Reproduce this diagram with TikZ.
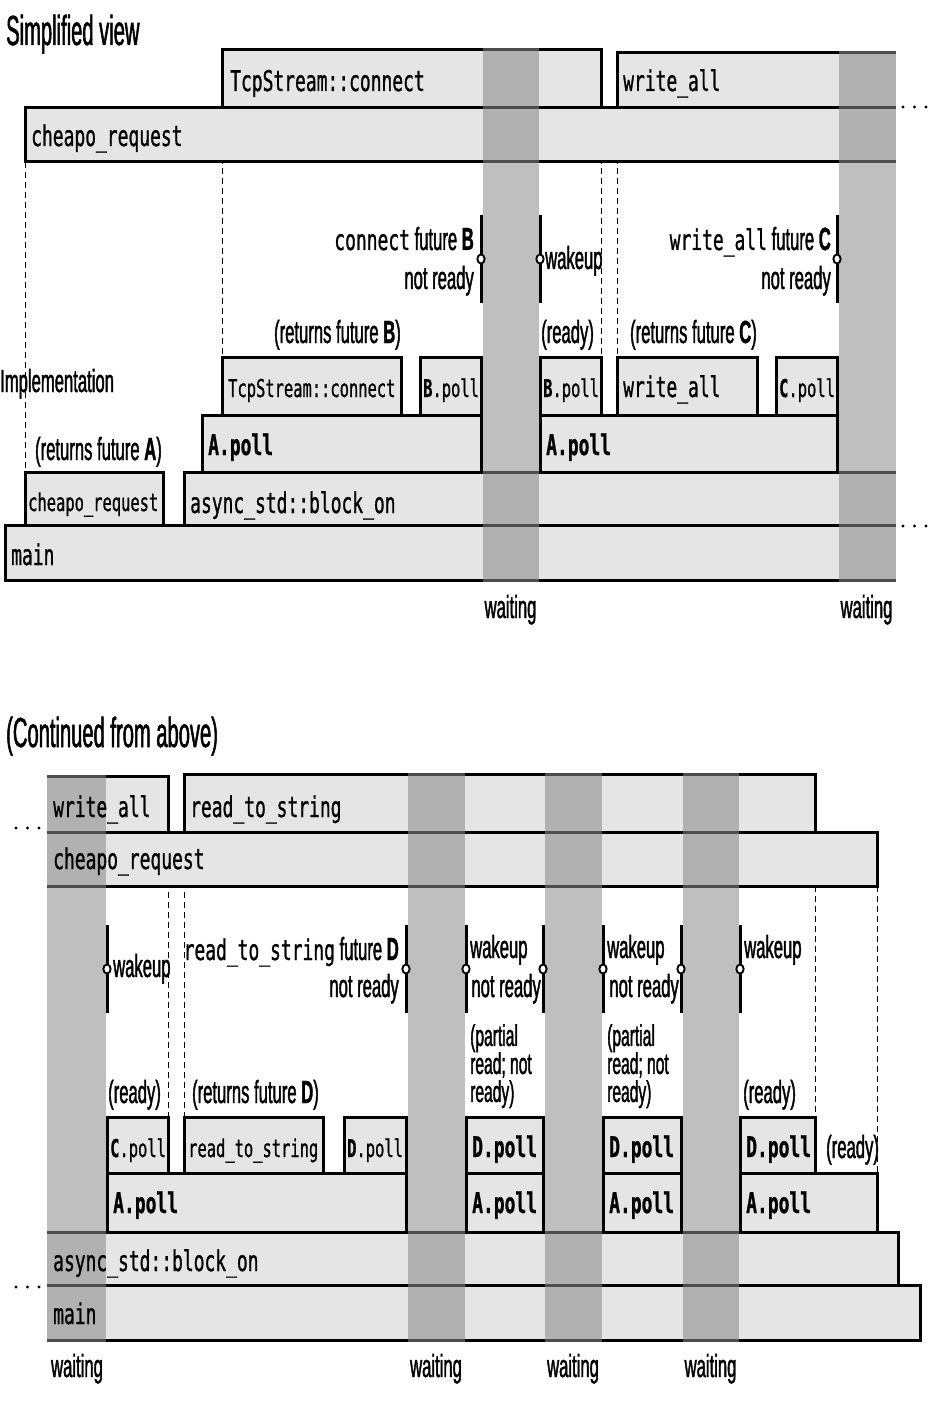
\documentclass[tikz,border=0pt]{standalone}
\usepackage{fontspec}
\setmainfont{Liberation Sans}
\newfontfamily\labfont[FakeStretch=0.52,FakeBold=1.2]{Liberation Sans}
\newfontfamily\ttlfont[FakeStretch=0.48,FakeBold=1.2]{Liberation Sans}
\newfontfamily\codefont[FakeStretch=0.63,FakeBold=0.8]{DejaVu Sans Mono}
\definecolor{barfill}{HTML}{E5E5E5}
\definecolor{colout}{HTML}{BFBFBF}
\definecolor{colin}{HTML}{B1B1B1}
\definecolor{colline}{HTML}{4D4D4D}
\newcommand\cd[1]{{\codefont\fontsize{28.5}{28.5}\selectfont #1}}
\newcommand\boxC[4]{\fill[barfill] (#1,#2) rectangle (#3,#4); \draw[barline] (#1,#2) rectangle (#3,#4);}
\newcommand\boxR[4]{\fill[barfill] (#1,#2) rectangle (#3,#4); \draw[barline] (#3,#2) -- (#1,#2) -- (#1,#4) -- (#3,#4);}
\newcommand\boxL[4]{\fill[barfill] (#1,#2) rectangle (#3,#4); \draw[barline] (#1,#2) -- (#3,#2) -- (#3,#4) -- (#1,#4);}
\newcommand\gcol[7]{%
  \fill[colout] (#1,#3) rectangle (#2,#4);
  \fill[colin] (#1,#3) rectangle (#2,#5);
  \fill[colin] (#1,#6) rectangle (#2,#4);
  \foreach \yy in {#7} {\draw[collinestyle] (#1,\yy) -- (#2,\yy);}
}
\newcommand\wake[2]{%
  \draw[wakeline] (#1,#2-44) -- (#1,#2+44);
  \draw[wakecirc] (#1,#2) ellipse (3.6 and 4.6);
}
\newcommand\dotsat[2]{%
  \foreach \dd in {0,11.5,23} {\fill (#1+\dd,#2) circle (1.7);}
}
\tikzset{
  barline/.style={line width=3pt, black},
  collinestyle/.style={line width=3pt, colline},
  wakeline/.style={line width=3pt, black},
  wakecirc/.style={line width=1.9pt, black, fill=white},
  dashln/.style={line width=1pt, dash pattern=on 6pt off 4pt},
  codeL/.style={inner sep=0pt, anchor=base west, font=\codefont\fontsize{28.5}{28.5}\selectfont},
  codeS/.style={inner sep=0pt, anchor=base west, font=\codefont\fontsize{24.5}{24.5}\selectfont},
  lab/.style={inner sep=0pt, font=\labfont\fontsize{32}{32}\selectfont},
  ttl/.style={inner sep=0pt, anchor=base west, font=\ttlfont\fontsize{42}{42}\selectfont},
}
\begin{document}
\begin{tikzpicture}[x=1pt,y=-1pt]
\useasboundingbox[fill=white] (0,0) rectangle (946,1404);

% ================= TOP =================
\node[ttl] (title1) at (6,45) {Simplified view};
\draw[dashln] (25,162) -- (25,472);
\draw[dashln] (222,108) -- (222,357);
\draw[dashln] (601,108) -- (601,357);
\draw[dashln] (617,108) -- (617,357);
\boxR{25}{108}{896}{162}
\boxC{222}{50}{601}{108}
\boxR{617}{53}{896}{108}
\boxR{5}{525}{896}{580}
\boxC{25}{472}{163}{525}
\boxR{184}{472}{896}{525}
\boxC{202}{415}{481}{472}
\boxC{540}{415}{837}{472}
\boxC{222}{357}{401}{415}
\boxC{420}{357}{481}{415}
\boxC{540}{357}{601}{415}
\boxC{617}{357}{757}{415}
\boxC{776}{357}{837}{415}
\gcol{482.5}{538.5}{50}{580}{162}{472}{50,108,162,472,525,580}
\gcol{838.5}{896}{53}{580}{162}{472}{53,108,162,472,525,580}
\node[codeL] (t1) at (230,91) {TcpStream::connect};
\node[codeL] (wa1) at (623,91) {write\_all};
\node[codeL] (cr1) at (31,146) {cheapo\_request};
\node[codeS] (tc2) at (228,397) {TcpStream::connect};
\node[codeS] (bp1) at (423,397) {\textbf{B}.poll};
\node[codeS] (bp2) at (543,397) {\textbf{B}.poll};
\node[codeL] (wa2) at (623,397) {write\_all};
\node[codeS] (cp1) at (779,397) {\textbf{C}.poll};
\node[codeL] (ap1) at (208,455) {\textbf{A.poll}};
\node[codeL] (ap2) at (546,455) {\textbf{A.poll}};
\node[codeS] (cr2) at (28,511) {cheapo\_request};
\node[codeL] (bo1) at (190,513) {async\_std::block\_on};
\node[codeL] (mn1) at (11,565) {main};
\node[lab, anchor=base west] (impl) at (0,392) {Implementation};
\node[lab, anchor=base east] (rB) at (401,343) {(returns future \textbf{B})};
\node[lab, anchor=base west] (rd1) at (541,343) {(ready)};
\node[lab, anchor=base east] (rC) at (757,343) {(returns future \textbf{C})};
\node[lab, anchor=base east] (rA) at (162,460) {(returns future \textbf{A})};
\wake{481}{259}
\wake{540}{259}
\wake{837}{259}
\node[lab, anchor=base east] (fB) at (474,250) {\cd{connect} future \textbf{B}};
\node[lab, anchor=base east] (nrB) at (474,289) {not ready};
\node[lab, anchor=base west] (wk1) at (545,269) {wakeup};
\node[lab, anchor=base east] (fC) at (831,250) {\cd{write\_all} future \textbf{C}};
\node[lab, anchor=base east] (nrC) at (831,289) {not ready};
\node[lab, anchor=base] (wt1) at (510.5,618) {waiting};
\node[lab, anchor=base] (wt2) at (866.5,618) {waiting};
\dotsat{903}{107}
\dotsat{903}{526}

% ================= BOTTOM =================
\node[ttl] (title2) at (6,747) {(Continued from above)};
\draw[dashln] (168,832) -- (168,1117);
\draw[dashln] (184,832) -- (184,1117);
\draw[dashln] (815,886) -- (815,1117);
\draw[dashln] (877,886) -- (877,1173);
\boxL{47}{832}{877}{886}
\boxL{47}{776}{168}{832}
\boxC{184}{774}{815}{832}
\boxL{47}{1285}{920}{1340}
\boxL{47}{1232}{898}{1285}
\boxC{107}{1173}{406}{1232}
\boxC{466}{1173}{543}{1232}
\boxC{603}{1173}{681}{1232}
\boxC{740}{1173}{877}{1232}
\boxC{107}{1117}{168}{1173}
\boxC{184}{1117}{323}{1173}
\boxC{344}{1117}{406}{1173}
\boxC{466}{1117}{543}{1173}
\boxC{603}{1117}{681}{1173}
\boxC{740}{1117}{815}{1173}
\gcol{47}{105.5}{776}{1340}{886}{1232}{776,832,886,1232,1285,1340}
\gcol{407.5}{464.5}{774}{1340}{886}{1232}{774,832,886,1232,1285,1340}
\gcol{544.5}{601.5}{774}{1340}{886}{1232}{774,832,886,1232,1285,1340}
\gcol{682.5}{738.5}{774}{1340}{886}{1232}{774,832,886,1232,1285,1340}
\node[codeL] (wa3) at (53,817) {write\_all};
\node[codeL] (rs1) at (190,817) {read\_to\_string};
\node[codeL] (cr3) at (53,869) {cheapo\_request};
\node[codeS] (cp2) at (110,1157) {\textbf{C}.poll};
\node[codeS] (rs2) at (188,1157) {read\_to\_string};
\node[codeS] (dp1) at (347,1157) {\textbf{D}.poll};
\node[codeL] (dp2) at (472,1157) {\textbf{D.poll}};
\node[codeL] (dp3) at (609,1157) {\textbf{D.poll}};
\node[codeL] (dp4) at (746,1157) {\textbf{D.poll}};
\node[codeL] (ap3) at (113,1213) {\textbf{A.poll}};
\node[codeL] (ap4) at (472,1213) {\textbf{A.poll}};
\node[codeL] (ap5) at (609,1213) {\textbf{A.poll}};
\node[codeL] (ap6) at (746,1213) {\textbf{A.poll}};
\node[codeL] (bo2) at (53,1271) {async\_std::block\_on};
\node[codeL] (mn2) at (53,1324) {main};
\wake{107}{969}
\wake{406}{969}
\wake{466}{969}
\wake{543}{969}
\wake{603}{969}
\wake{681}{969}
\wake{740}{969}
\node[lab, anchor=base west] (wk2) at (113,977) {wakeup};
\node[lab, anchor=base east] (fD) at (399,960) {\cd{read\_to\_string} future \textbf{D}};
\node[lab, anchor=base east] (nrD) at (399,997) {not ready};
\node[lab, anchor=base west] (wk3) at (470,958) {wakeup};
\node[lab, anchor=base east] (nr2) at (541,997) {not ready};
\node[lab, anchor=base west] (wk4) at (607,958) {wakeup};
\node[lab, anchor=base east] (nr3) at (679,997) {not ready};
\node[lab, anchor=base west] (wk5) at (744,958) {wakeup};
\node[lab, anchor=base west] (rd2) at (108,1103) {(ready)};
\node[lab, anchor=base east] (rD) at (319,1103) {(returns future \textbf{D})};
\node[lab, anchor=north west, align=left, font=\labfont\fontsize{30}{28}\selectfont] (pr1) at (470,1024) {(partial\\read; not\\ready)};
\node[lab, anchor=north west, align=left, font=\labfont\fontsize{30}{28}\selectfont] (pr2) at (607,1024) {(partial\\read; not\\ready)};
\node[lab, anchor=base west] (rd3) at (743,1103) {(ready)};
\node[lab, anchor=base west] (rd4) at (826,1158) {(ready)};
\node[lab, anchor=base] (wt3) at (77,1377) {waiting};
\node[lab, anchor=base] (wt4) at (436,1377) {waiting};
\node[lab, anchor=base] (wt5) at (573,1377) {waiting};
\node[lab, anchor=base] (wt6) at (710.5,1377) {waiting};
\dotsat{16}{828}
\dotsat{16}{1287}
\end{tikzpicture}
\end{document}
